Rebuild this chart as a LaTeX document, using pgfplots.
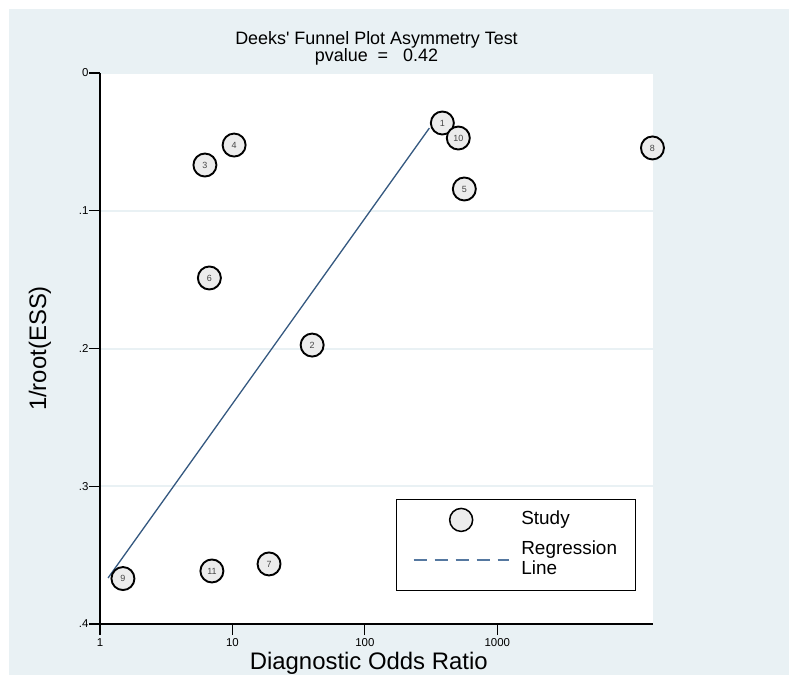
\documentclass[border=0pt]{standalone}
\usepackage{fontspec}
\setmainfont{Liberation Sans}
\usepackage{pgfplots}
\usepackage{pgfplotstable}
\pgfplotsset{compat=1.18}
\definecolor{bgblue}{RGB}{233,241,244}
\definecolor{regblue}{RGB}{52,88,128}
\definecolor{legblue}{RGB}{85,120,160}
\definecolor{circfill}{RGB}{236,236,236}
\definecolor{numgray}{RGB}{70,70,70}

\pgfplotstableread{
x      y       id
385    0.0363  1
40     0.1975  2
6.2    0.0668  3
10.3   0.0523  4
564    0.0842  5
6.7    0.1488  6
18.9   0.3564  7
14860  0.0544  8
1.49   0.3670  9
508    0.0472  10
7.0    0.3615  11
}\studies

\begin{document}
\begin{tikzpicture}
\fill[white] (-100bp,-60bp) rectangle (697bp,624bp);
\fill[bgblue] (-91bp,-51bp) rectangle (689bp,615bp);
\begin{axis}[
  at={(0,0)}, anchor=south west,
  scale only axis, width=553bp, height=551bp,
  xmode=log, xmin=1, xmax=15000,
  ymin=0, ymax=0.4, y dir=reverse,
  axis x line*=bottom, axis y line*=left,
  axis line style={line width=1.3bp, black, -},
  axis background/.style={fill=white},
  tick align=outside, major tick length=11bp,
  tick style={line width=1.1bp, black},
  xtick={1,10,100,1000}, xticklabels={1,10,100,1000},
  xminorticks=false,
  ytick={0,0.1,0.2,0.3,0.4}, yticklabels={0,.1,.2,.3,.4},
  yticklabel style={xshift=3bp},
  ymajorgrids, grid style={bgblue, line width=2bp},
  tick label style={font=\fontsize{11.5}{12}\selectfont},
  xlabel={Diagnostic Odds Ratio}, ylabel={1/root(ESS)},
  xlabel style={font=\fontsize{24}{28}\selectfont, at={(axis description cs:0.486,-0.0817)}, anchor=base},
  ylabel style={font=\fontsize{24}{28}\selectfont, at={(axis description cs:-0.1085,0.5)}, anchor=center},
  title={Deeks\textquotesingle\ Funnel Plot Asymmetry Test\\pvalue\ \ =\ \ \ 0.42},
  title style={font=\fontsize{18}{17}\selectfont, align=center, at={(axis description cs:0.5,1.065)}, anchor=north, inner sep=0pt},
  clip=false,
]
\addplot[only marks, mark=*, mark size=11.5bp,
  mark options={draw=black, fill=circfill, line width=1.9bp},
  nodes near coords, point meta=explicit symbolic, nodes near coords align=center,
  every node near coord/.append style={font=\fontsize{9}{10}\selectfont, text=numgray}
] table[x=x, y=y, meta=id] {\studies};
\addplot[regblue, line width=1.3bp] coordinates {(1.15,0.3666) (307,0.040)};
\end{axis}
\begin{axis}[
  at={(0,0)}, anchor=south west,
  scale only axis, width=553bp, height=551bp,
  xmin=0, xmax=1, ymin=0, ymax=1, hide axis,
  legend style={at={(axis description cs:0.5353,0.0599)}, anchor=south west, draw=black, line width=1bp, fill=white,
    font=\fontsize{19}{20}\selectfont, inner xsep=16.5bp, inner ysep=8.5bp, row sep=6bp,
    nodes={text depth=},
    /tikz/every odd column/.append style={column sep=10bp}},
  legend cell align=left,
]
\addlegendimage{legend image code/.code={\path[draw=none, fill=none] (0,0) -- (95bp,0); \draw[black, fill=circfill, line width=1.5bp] (47.5bp,0bp) circle[radius=11.5bp];}}
\addlegendentry{Study}
\addlegendimage{legend image code/.code={\draw[legblue, line width=1.3bp, dash pattern=on 13bp off 8bp] (0,0) -- (95bp,0);}}
\addlegendentry{\begin{tabular}{@{}l@{}}Regression\\Line\end{tabular}}
\end{axis}
\pgfresetboundingbox
\useasboundingbox (-100bp,-60bp) rectangle (697bp,624bp);
\end{tikzpicture}
\end{document}
